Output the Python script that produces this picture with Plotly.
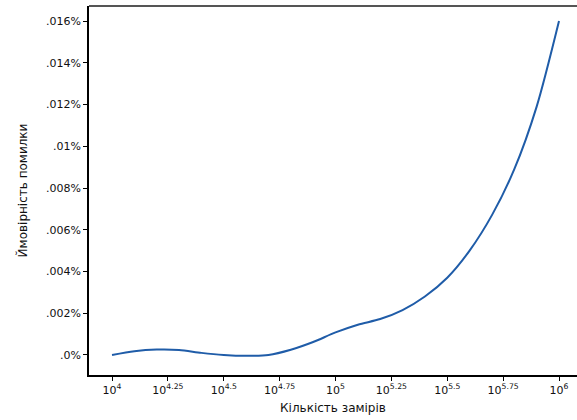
import plotly.graph_objects as go

# exponent of the number of measurements (x = 10**exp)
exponents = [4.0, 4.1, 4.2, 4.3, 4.4, 4.5, 4.6, 4.7, 4.8, 4.9, 5.0,
             5.1, 5.2, 5.3, 5.4, 5.5, 5.6, 5.7, 5.8, 5.9, 6.0]
# error probability, in percent
error_pct = [0.0, 0.00018, 0.00026, 0.00024, 0.00010, 0.00000, -0.00004,
             0.00000, 0.00025, 0.00062, 0.00108, 0.00145, 0.00172, 0.00215,
             0.0028, 0.0037, 0.0050, 0.0067, 0.0089, 0.0119, 0.016]

x_tick_exps = [4, 4.25, 4.5, 4.75, 5, 5.25, 5.5, 5.75, 6]
x_tick_text = ["10<sup>4</sup>", "10<sup>4.25</sup>", "10<sup>4.5</sup>",
               "10<sup>4.75</sup>", "10<sup>5</sup>", "10<sup>5.25</sup>",
               "10<sup>5.5</sup>", "10<sup>5.75</sup>", "10<sup>6</sup>"]
y_tick_vals = [0, 0.002, 0.004, 0.006, 0.008, 0.01, 0.012, 0.014, 0.016]
y_tick_text = [".0%", ".002%", ".004%", ".006%", ".008%", ".01%",
               ".012%", ".014%", ".016%"]

xs = [10 ** e for e in exponents]

fig = go.Figure()
fig.add_trace(go.Scatter(
    x=xs, y=error_pct, mode="lines",
    line=dict(color="#1f5ca8", width=2, shape="spline", smoothing=0.8),
    showlegend=False, hoverinfo="skip",
))

font = dict(family="DejaVu Sans", size=11, color="#111111")
title_font = dict(family="DejaVu Sans", size=12, color="#111111")

fig.update_layout(
    width=577, height=420,
    margin=dict(l=89, r=0, t=6, b=45),
    paper_bgcolor="white", plot_bgcolor="white",
    font=font,
    xaxis=dict(
        type="log", range=[3.897, 6.0805],
        tickvals=[10 ** e for e in x_tick_exps], ticktext=x_tick_text,
        tickfont=font,
        showgrid=False, zeroline=False,
        showline=True, linecolor="black", linewidth=1.5,
        ticks="outside", ticklen=4, tickcolor="black", tickwidth=1,
        title=dict(text="Кількість замірів", font=title_font, standoff=8),
    ),
    yaxis=dict(
        range=[-0.00096, 0.01672],
        tickvals=y_tick_vals, ticktext=y_tick_text,
        tickfont=font,
        showgrid=False, zeroline=False,
        showline=True, linecolor="black", linewidth=1.5,
        ticks="outside", ticklen=4, tickcolor="black", tickwidth=1,
        title=dict(text="Ймовірність помилки", font=title_font, standoff=16),
    ),
    shapes=[dict(type="line", xref="paper", yref="paper",
                 x0=0, x1=1, y0=1, y1=1,
                 line=dict(color="#555555", width=2))],
)

fig.write_html("out.html")
